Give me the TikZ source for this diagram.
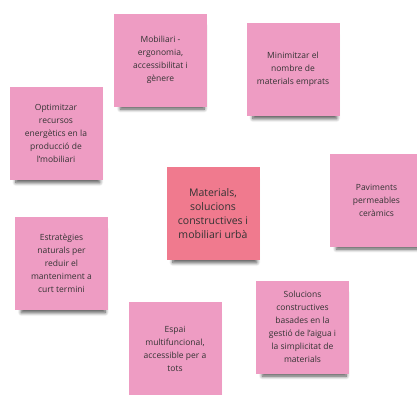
\documentclass[tikz,border=0pt]{standalone}
\usepackage{fontspec}
\setmainfont{Open Sans}
\usetikzlibrary{shadows.blur}

\definecolor{notepink}{HTML}{EE9CC3}
\definecolor{notered}{HTML}{F07A8E}
\definecolor{notetext}{HTML}{333333}

\begin{document}
\begin{tikzpicture}[x=1pt, y=-1pt]
  \tikzstyle{note} = [rectangle, fill=notepink, text=notetext,
    minimum width=93pt, minimum height=93pt, inner sep=0pt, align=center,
    font=\fontsize{8.5}{13}\selectfont,
    blur shadow={shadow xshift=2pt, shadow yshift=-8pt, shadow scale=0.9,
      shadow opacity=70, shadow blur radius=4pt, shadow blur steps=8}]
  \tikzstyle{topic} = [note, fill=notered, font=\fontsize{10.5}{14}\selectfont]

  \useasboundingbox (0,0) rectangle (417,394);

  % Place notes
  \node [topic] (topic) at (213,213.5) {Materials,\\ solucions\\ constructives i\\ mobiliari urbà};

  \node [note] (mobiliari) at (160.5,60) {Mobiliari -\\ ergonomia,\\ accessibilitat i\\ gènere};
  \node [note] (minimitzar) at (293,69.5) {Minimitzar el\\ nombre de\\ materials emprats};
  \node [note] (optimitzar) at (56,133.5) {Optimitzar\\ recursos\\ energètics en la\\ producció de\\ l'mobiliari};
  \node [note] (paviments) at (376.5,200) {Paviments\\ permeables\\ ceràmics};
  \node [note] (estrategies) at (61.5,263.5) {Estratègies\\ naturals per\\ reduir el\\ manteniment a\\ curt termini};
  \node [note] (espai) at (175,348.5) {Espai\\ multifuncional,\\ accessible per a\\ tots};
  \node [note] (solucions) at (302.5,327) {Solucions\\ constructives\\ basades en la\\ gestió de l'aigua i\\ la simplicitat de\\ materials};

\end{tikzpicture}
\end{document}
